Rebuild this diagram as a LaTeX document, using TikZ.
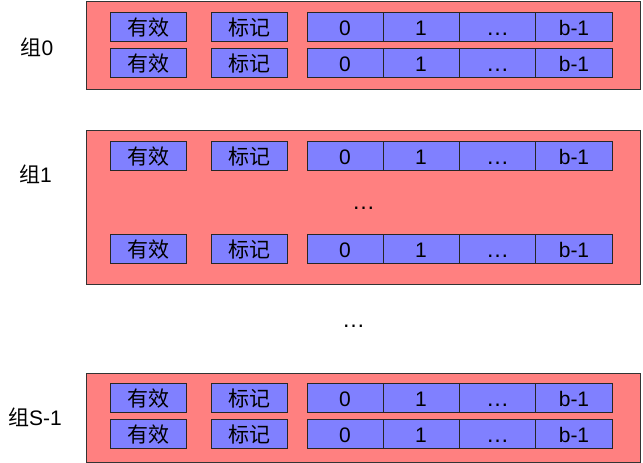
\documentclass[tikz,border=0pt]{standalone}
\usepackage{fontspec}
\setmainfont{Liberation Sans}
\newfontfamily\cjk{Noto Sans CJK SC}
\definecolor{setred}{HTML}{FF8080}
\definecolor{lineblue}{HTML}{8080FF}
\tikzset{
  setbox/.style={draw=black!80,fill=setred,line width=1pt},
  cell/.style={draw=black!85,fill=lineblue,line width=1pt,inner sep=0pt,
    minimum width=76pt,minimum height=29pt,text height=17pt,text depth=0pt,
    font=\fontsize{21}{21}\selectfont},
  grouplabel/.style={font=\fontsize{21}{21}\selectfont},
  dots/.style={font=\fontsize{23}{23}\selectfont}
}
\begin{document}
\begin{tikzpicture}[x=1pt,y=-1pt]
\useasboundingbox (0,0) rectangle (643,463);
% the three sets
\draw[setbox] (86.5,1.5) rectangle (640.5,89.5);
\draw[setbox] (86.5,130.5) rectangle (640.5,284);
\draw[setbox] (86.5,373) rectangle (640.5,462);
\node[grouplabel] (set0) at (37,47) {{\cjk 组}0};
\node[grouplabel] (set1) at (35.5,174) {{\cjk 组}1};
\node[grouplabel] (setS) at (35,417.5) {{\cjk 组}S-1};
% lines
\foreach \n/\y in {a/26.5,b/62.5,c/155.5,d/248.5,e/398,f/434}{
  \node[cell] (valid\n) at (148,\y) {\cjk 有效};
  \node[cell] (tag\n) at (249,\y) {\cjk 标记};
  \node[cell] (byteA\n) at (345,\y) {0};
  \node[cell] (byteB\n) at (421,\y) {1};
  \node[cell] (byteC\n) at (497.5,\y) {{\fontsize{23}{23}\selectfont …}};
  \node[cell,minimum width=77pt] (byteD\n) at (574,\y) {b-1};
}
\node[dots] (morelines) at (363.5,208) {…};
\node[dots] (moresets) at (353.5,326) {…};
\end{tikzpicture}
\end{document}
